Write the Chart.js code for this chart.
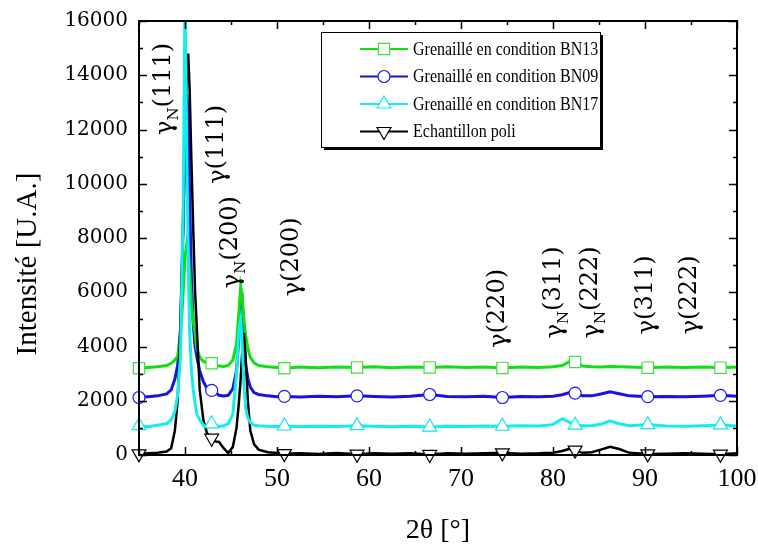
<!DOCTYPE html>
<html>
<head>
<meta charset="utf-8">
<script src="https://cdn.jsdelivr.net/npm/chart.js@4.4.0/dist/chart.umd.min.js"></script>
<style>
  html, body { margin: 0; padding: 0; background: #fff; }
  canvas { display: block; }
</style>
</head>
<body>
<canvas id="xrd" width="758" height="548"></canvas>
<script>
// 2θ positions (degrees) shared by every curve
const twoTheta = [35, 36, 37, 38, 38.5, 38.9, 39.2, 39.5, 39.8, 40.0,
  40.2, 40.35, 40.5, 40.7, 40.9, 41.1, 41.3, 41.6, 42.0, 42.4,
  42.9, 43.3, 43.7, 44.2, 44.7, 45.2, 45.6, 45.85, 46.05, 46.2,
  46.4, 46.6, 46.85, 47.1, 47.5, 48.0, 49.0, 50.0, 50.8, 52.5,
  54.5, 56.5, 58.7, 60.5, 62.5, 64.5, 66.6, 68.5, 70.5, 72.5,
  74.5, 76.5, 78.5, 80.0, 81.0, 81.8, 82.4, 83.2, 84.2, 85.2,
  86.2, 87.2, 88.3, 90.3, 92.3, 94.3, 96.3, 98.2, 100];

// intensities (U.A.)
const bn13 = [3200, 3230, 3250, 3300, 3380, 3500, 3650, 4300, 6000, 7300,
  7800, 7500, 6800, 5600, 4900, 4500, 3900, 3600, 3450, 3400,
  3380, 3330, 3280, 3260, 3300, 3500, 4100, 5200, 6200, 5900,
  5000, 4400, 3900, 3600, 3400, 3300, 3250, 3230, 3200, 3240,
  3220, 3240, 3230, 3250, 3220, 3240, 3230, 3250, 3230, 3240,
  3210, 3240, 3230, 3250, 3300, 3450, 3430, 3280, 3250, 3240,
  3260, 3250, 3240, 3220, 3240, 3230, 3240, 3220, 3240];
const bn09 = [2120, 2150, 2180, 2250, 2400, 2800, 3300, 4600, 8500, 12000,
  13300, 12500, 9500, 6500, 4800, 4000, 3600, 3100, 2700, 2450,
  2380, 2300, 2200, 2180, 2200, 2450, 3100, 4300, 5700, 5800,
  4500, 3300, 2800, 2500, 2300, 2230, 2180, 2150, 2160, 2140,
  2170, 2150, 2180, 2160, 2140, 2170, 2230, 2160, 2150, 2170,
  2120, 2160, 2150, 2170, 2220, 2300, 2280, 2180, 2180, 2250,
  2330, 2260, 2180, 2150, 2160, 2150, 2170, 2200, 2170];
const bn17 = [1080, 1040, 1100, 1150, 1300, 1600, 2200, 3600, 9000, 17000,
  11000, 7200, 4600, 3100, 2400, 1900, 1500, 1300, 1100, 1050,
  1150, 1100, 1050, 1080, 1150, 1500, 3000, 4600, 5000, 4200,
  2600, 1700, 1350, 1200, 1100, 1080, 1060, 1050, 1070, 1040,
  1060, 1050, 1080, 1060, 1040, 1060, 1030, 1060, 1050, 1070,
  1060, 1080, 1070, 1120, 1340, 1200, 1100, 1080, 1080, 1130,
  1260, 1150, 1080, 1120, 1070, 1060, 1080, 1110, 1070];
const poli = [40, 60, 80, 130, 250, 900, 2000, 4600, 8500, 11500,
  14000, 14800, 13500, 10800, 8300, 6000, 4600, 2400, 1280, 800,
  620, 500, 480, 250, 70, 300, 1000, 1900, 2800, 3700,
  4500, 3500, 1900, 900, 400, 200, 100, 70, 50, 60,
  40, 70, 30, 60, 50, 60, 20, 60, 50, 60,
  80, 50, 60, 80, 150, 230, 180, 80, 100, 200,
  300, 220, 80, 40, 50, 60, 50, 30, 60];

const seriesNames = ['Grenaillé en condition BN13', 'Grenaillé en condition BN09',
  'Grenaillé en condition BN17', 'Echantillon poli'];
const markerAt = [35, 42.9, 50.8, 58.7, 66.6, 74.5, 82.4, 90.3, 98.2];
const xTicks = [40, 50, 60, 70, 80, 90, 100];
const yTicks = [0, 2000, 4000, 6000, 8000, 10000, 12000, 14000, 16000];

// peak labels: 2θ of the text column, intensity where the text starts
const peakLabels = [
  { x: 37.7, y: 11800, sub: 'N', hkl: '(111)' },
  { x: 43.5, y: 10000, sub: '',  hkl: '(111)' },
  { x: 45.0, y: 6150,  sub: 'N', hkl: '(200)' },
  { x: 51.6, y: 5850,  sub: '',  hkl: '(200)' },
  { x: 74.0, y: 3950,  sub: '',  hkl: '(220)' },
  { x: 80.1, y: 4300,  sub: 'N', hkl: '(311)' },
  { x: 84.1, y: 4300,  sub: 'N', hkl: '(222)' },
  { x: 90.1, y: 4450,  sub: '',  hkl: '(311)' },
  { x: 94.9, y: 4450,  sub: '',  hkl: '(222)' }
];

const isMark = twoTheta.map(x => markerAt.includes(x));

// look of each series: line colour, marker colour, marker
const looks = [
  { color: '#10e010', mark: '#44dd44', style: 'rect',     radius: 8, rot: 0,   order: 2, width: 3 },
  { color: '#1414e6', mark: '#1c1cf0', style: 'circle',   radius: 6, rot: 0,   order: 3, width: 3 },
  { color: '#12eeee', mark: '#12e6e6', style: 'triangle', radius: 8, rot: 0,   order: 0, width: 3 },
  { color: '#000000', mark: '#000000', style: 'triangle', radius: 8, rot: 180, order: 1, width: 2.5 }
];
const allSeries = [bn13, bn09, bn17, poli];

const datasets = allSeries.map((vals, k) => {
  const lk = looks[k];
  return {
    label: seriesNames[k],
    data: twoTheta.map((x, i) => ({ x: x, y: vals[i] })),
    borderColor: lk.color,
    borderWidth: lk.width,
    pointStyle: lk.style,
    pointRotation: lk.rot,
    pointRadius: c => isMark[c.dataIndex] ? lk.radius : 0,
    pointBorderColor: lk.mark,
    pointBackgroundColor: '#ffffff',
    pointBorderWidth: 1.2,
    tension: 0,
    order: lk.order,
    clip: { left: 12, right: 12, top: 0, bottom: 12 }
  };
});

function drawMarker(ctx, style, rot, x, y, r) {
  ctx.beginPath();
  if (style === 'rect') {
    const s = r * Math.SQRT1_2;
    ctx.rect(x - s, y - s, 2 * s, 2 * s);
  } else if (style === 'circle') {
    ctx.arc(x, y, r, 0, Math.PI * 2);
  } else {
    const d = rot ? -1 : 1;
    ctx.moveTo(x, y - d * r);
    ctx.lineTo(x + r * 0.866, y + d * r * 0.5);
    ctx.lineTo(x - r * 0.866, y + d * r * 0.5);
    ctx.closePath();
  }
  ctx.fill();
  ctx.stroke();
}

// frame with inward ticks on the four sides
const framePlugin = {
  id: 'frame',
  afterDatasetsDraw(chart) {
    const { ctx, chartArea: a, scales } = chart;
    const xs = scales.x, ys = scales.y;
    ctx.save();
    ctx.strokeStyle = '#000';
    ctx.lineWidth = 1.5;
    for (let v = 35; v <= 100; v += 5) {
      const px = Math.round(xs.getPixelForValue(v)) + 0.5;
      const len = v % 10 === 0 ? 8 : 4;
      ctx.beginPath();
      ctx.moveTo(px, a.bottom); ctx.lineTo(px, a.bottom - len);
      ctx.moveTo(px, a.top); ctx.lineTo(px, a.top + len);
      ctx.stroke();
    }
    for (let v = 0; v <= 16000; v += 1000) {
      const py = Math.round(ys.getPixelForValue(v)) + 0.5;
      const len = v % 2000 === 0 ? 8 : 4;
      ctx.beginPath();
      ctx.moveTo(a.left, py); ctx.lineTo(a.left + len, py);
      ctx.moveTo(a.right, py); ctx.lineTo(a.right - len, py);
      ctx.stroke();
    }
    ctx.lineWidth = 2;
    ctx.strokeRect(a.left, a.top, a.right - a.left, a.bottom - a.top);
    ctx.restore();
  }
};

// rotated peak names + y axis title
const peakPlugin = {
  id: 'peaks',
  afterDatasetsDraw(chart) {
    const { ctx, scales, chartArea: a } = chart;
    ctx.save();
    ctx.fillStyle = '#000';
    ctx.textBaseline = 'middle';
    ctx.textAlign = 'left';
    peakLabels.forEach(p => {
      const px = scales.x.getPixelForValue(p.x);
      const py = scales.y.getPixelForValue(p.y);
      ctx.save();
      ctx.translate(px, py);
      ctx.rotate(-Math.PI / 2);
      ctx.font = '24px "DejaVu Serif"';
      ctx.fillText('γ', 0, 2);
      let w = ctx.measureText('γ').width;
      if (p.sub) {
        ctx.font = '15px "DejaVu Serif"';
        ctx.fillText(p.sub, w, 10);
        w += ctx.measureText(p.sub).width;
      }
      ctx.font = '24px "DejaVu Serif"';
      ctx.fillText(p.hkl, w, 0);
      ctx.restore();
    });
    // y title, sitting a little below the middle as in the original
    ctx.save();
    ctx.translate(28, a.top + 243);
    ctx.rotate(-Math.PI / 2);
    ctx.textAlign = 'center';
    ctx.font = '29px "Liberation Serif"';
    ctx.fillText('Intensité [U.A.]', 0, 0);
    ctx.restore();
    ctx.restore();
  }
};

// boxed legend inside the plot
const legendPlugin = {
  id: 'boxLegend',
  afterDraw(chart) {
    const { ctx, chartArea: a } = chart;
    const left = a.left + 182, top = a.top + 11, w = 279, h = 115;
    ctx.save();
    ctx.fillStyle = '#fff';
    ctx.fillRect(left, top, w, h);
    ctx.strokeStyle = '#000';
    ctx.lineWidth = 1;
    ctx.strokeRect(left + 0.5, top + 0.5, w, h);
    ctx.lineWidth = 2;
    ctx.beginPath();
    ctx.moveTo(left + 3, top + h + 2);
    ctx.lineTo(left + w + 2, top + h + 2);
    ctx.lineTo(left + w + 2, top + 3);
    ctx.stroke();
    ctx.font = '16px "Liberation Serif"';
    ctx.textBaseline = 'middle';
    seriesNames.forEach((name, k) => {
      const lk = looks[k];
      const y = top + 17 + k * 27.5;
      ctx.strokeStyle = lk.color;
      ctx.lineWidth = 2;
      ctx.beginPath();
      ctx.moveTo(left + 39, y); ctx.lineTo(left + 87, y);
      ctx.stroke();
      ctx.fillStyle = '#fff';
      ctx.strokeStyle = lk.mark;
      ctx.lineWidth = 1.2;
      drawMarker(ctx, lk.style, lk.rot, left + 63, y, lk.radius);
      ctx.fillStyle = '#000';
      ctx.save();
      ctx.translate(left + 92, y + 1);
      ctx.scale(1, 1.12);
      ctx.fillText(name, 0, 0);
      ctx.restore();
    });
    ctx.restore();
  }
};

new Chart(document.getElementById('xrd'), {
  type: 'line',
  data: { datasets: datasets },
  options: {
    responsive: false,
    animation: false,
    devicePixelRatio: 1,
    events: [],
    layout: { padding: { top: 21, right: 21, left: 0, bottom: 0 } },
    plugins: { legend: { display: false }, tooltip: { enabled: false } },
    scales: {
      x: {
        type: 'linear',
        min: 35,
        max: 100,
        afterBuildTicks: s => { s.ticks = xTicks.map(v => ({ value: v })); },
        afterFit: s => { s.height = 93; s.paddingLeft = 0; s.paddingRight = 0; },
        grid: { display: false, drawTicks: false },
        border: { display: false },
        ticks: { color: '#000', padding: 9, maxRotation: 0, font: { family: 'Liberation Serif', size: 26 } },
        title: { display: true, text: '2θ [°]', color: '#000', padding: { top: 0, bottom: 1 },
          font: { family: 'Liberation Serif', size: 28, lineHeight: 1.2 } }
      },
      y: {
        min: 0,
        max: 16000,
        afterBuildTicks: s => { s.ticks = yTicks.map(v => ({ value: v })); },
        afterFit: s => { s.width = 139; s.paddingTop = 0; s.paddingBottom = 0; },
        grid: { display: false, drawTicks: false },
        border: { display: false },
        ticks: { color: '#000', padding: 11, font: { family: 'DejaVu Serif', size: 20 },
          callback: v => String(v) }
      }
    }
  },
  plugins: [framePlugin, peakPlugin, legendPlugin]
});
</script>
</body>
</html>
